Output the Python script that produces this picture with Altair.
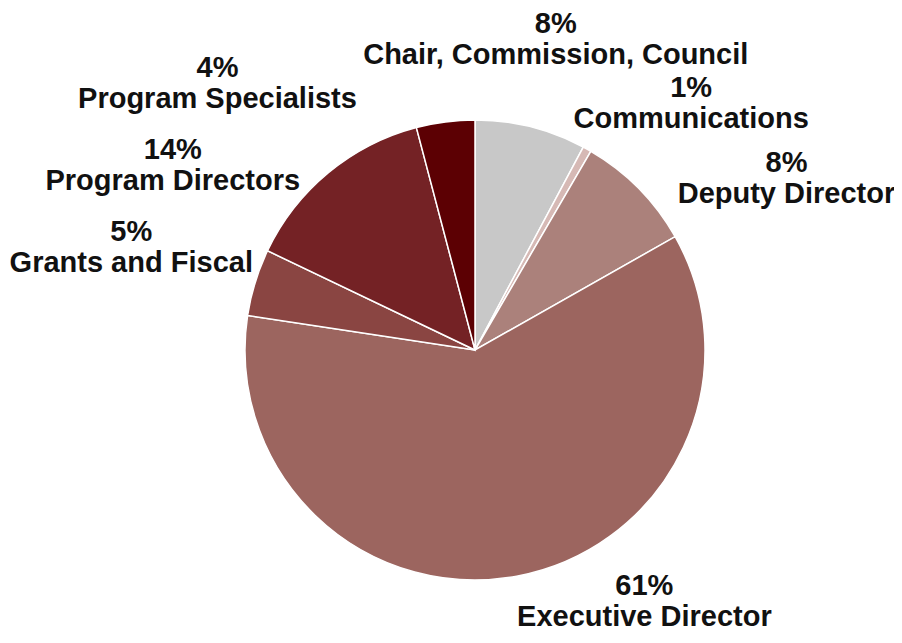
import altair as alt
import pandas as pd

categories = ["Chair, Commission, Council", "Communications", "Deputy Director",
              "Executive Director", "Grants and Fiscal", "Program Directors",
              "Program Specialists"]
values = [7.8, 0.6, 8.4, 60.6, 4.7, 13.8, 4.1]
pct_labels = ["8%", "1%", "8%", "61%", "5%", "14%", "4%"]
colors = ["#c8c8c8", "#d6b9b5", "#ab817b", "#9c655f", "#8a4542", "#742225", "#5c0003"]
# label nudges (dx, dy) relative to the slice mid-angle at the label radius
nudges = [(8, -35), (70, 0), (98, 24), (115, -59), (-57, -30), (-111, 31), (-219, 16)]

df = pd.DataFrame({
    "cat": categories,
    "value": values,
    "pct": pct_labels,
    "order": list(range(len(categories))),
})
df["label"] = df["pct"] + "\n" + df["cat"]

CX, CY = 467, 342

base = alt.Chart(df).encode(
    theta=alt.Theta("value:Q", stack=True),
    order=alt.Order("order:Q"),
    x=alt.value(CX),
    y=alt.value(CY),
)

pie = base.mark_arc(outerRadius=230, stroke="white", strokeWidth=1.5).encode(
    color=alt.Color("cat:N", scale=alt.Scale(domain=categories, range=colors), legend=None)
)

layers = [pie]
for cat, (dx, dy) in zip(categories, nudges):
    layers.append(
        base.mark_text(radius=300, dx=dx, dy=dy, font="Liberation Sans", fontWeight="bold",
                       fontSize=29, lineHeight=31, lineBreak="\n", align="center",
                       baseline="middle", color="#111111").encode(
            text=alt.condition(alt.datum.cat == cat, "label:N", alt.value(""))
        )
    )

chart = alt.layer(*layers).properties(
    width=886, height=627, autosize="none", padding=0
).configure_view(stroke=None)

chart.save("out.html", embed_options={"renderer": "svg", "actions": False})
